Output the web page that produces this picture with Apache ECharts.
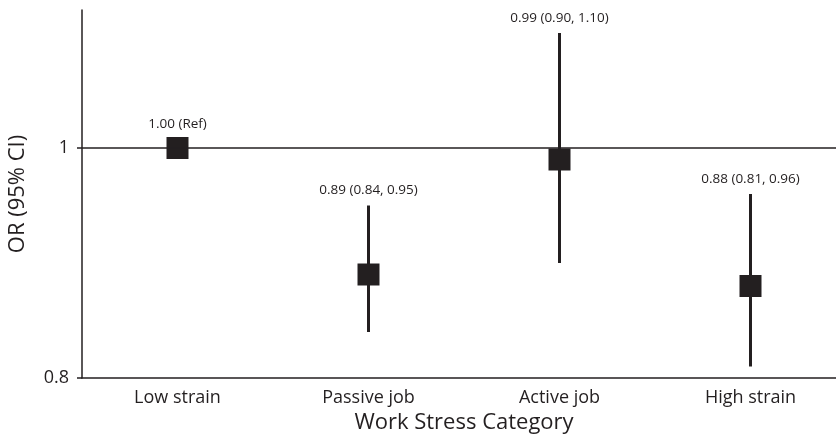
<!DOCTYPE html>
<html lang="en">
<head>
    <meta charset="UTF-8">
    <title>OR by work stress</title>
    <script src="https://cdn.jsdelivr.net/npm/echarts@6.0.0/dist/echarts.min.js"></script>
    <style>
        * { margin: 0; padding: 0; }
        body { background: #fff; overflow: hidden; }
        #main { width: 836px; height: 443px; }
    </style>
</head>
<body>
<div id="main"></div>
<script type="text/javascript">
    // data
    var categories = ['Low strain', 'Passive job', 'Active job', 'High strain'];
    var orValues = [1.00, 0.89, 0.99, 0.88];
    var lowerCI = [1.00, 0.84, 0.90, 0.81];
    var upperCI = [1.00, 0.95, 1.10, 0.96];
    var ciLabels = ['1.00 (Ref)', '0.89 (0.84, 0.95)', '0.99 (0.90, 1.10)', '0.88 (0.81, 0.96)'];
    var yTicks = [0.8, 1];

    var ink = '#231f20';
    var font = 'Open Sans';

    var ciData = categories.map(function (c, i) {
        return [i, lowerCI[i], upperCI[i], orValues[i]];
    });

    var myChart = echarts.init(document.getElementById('main'));
    var option = {
        animation: false,
        grid: { left: 82, top: 10, bottom: 65, width: 764, containLabel: false, outerBoundsMode: 'none' },
        xAxis: {
            type: 'category',
            data: categories,
            name: 'Work Stress Category',
            nameLocation: 'middle',
            nameGap: 31,
            nameTextStyle: { color: ink, fontSize: 22, fontFamily: font },
            axisLine: { lineStyle: { color: ink, width: 1.5 } },
            axisTick: { show: false },
            axisLabel: { color: ink, fontSize: 18, fontFamily: font, margin: 11 },
            splitLine: { show: false }
        },
        yAxis: {
            type: 'value',
            min: 0.8,
            max: 1.12,
            name: 'OR (95% CI)',
            nameLocation: 'middle',
            nameGap: 53,
            nameTextStyle: { color: ink, fontSize: 22, fontFamily: font },
            axisLine: { show: true, lineStyle: { color: ink, width: 1.5 } },
            axisTick: { show: true, length: 5, customValues: yTicks, lineStyle: { color: ink, width: 1.5 } },
            axisLabel: { color: ink, fontSize: 18, fontFamily: font, margin: 13, customValues: yTicks },
            splitLine: { show: false }
        },
        series: [
            {
                type: 'custom',
                data: ciData,
                renderItem: function (params, api) {
                    var lo = api.coord([api.value(0), api.value(1)]);
                    var hi = api.coord([api.value(0), api.value(2)]);
                    var mid = api.coord([api.value(0), api.value(3)]);
                    var isRef = api.value(1) === api.value(2);
                    var labelY = isRef ? mid[1] - 24 : hi[1] - 15;
                    var children = [];
                    if (!isRef) {
                        children.push({
                            type: 'line',
                            shape: { x1: lo[0], y1: lo[1], x2: hi[0], y2: hi[1] },
                            style: { stroke: ink, lineWidth: 3 }
                        });
                    }
                    children.push({
                        type: 'text',
                        style: {
                            x: mid[0], y: labelY,
                            text: ciLabels[params.dataIndex],
                            fill: ink, font: '13.5px "' + font + '"',
                            align: 'center', verticalAlign: 'middle'
                        }
                    });
                    return { type: 'group', children: children };
                },
                z: 2
            },
            {
                type: 'scatter',
                data: orValues,
                symbol: 'rect',
                symbolSize: 22,
                itemStyle: { color: ink, opacity: 1 },
                markLine: {
                    silent: true,
                    symbol: 'none',
                    label: { show: false },
                    lineStyle: { color: ink, width: 1.5, type: 'solid' },
                    data: [{ yAxis: 1 }]
                },
                z: 3
            }
        ]
    };
    myChart.setOption(option);
</script>
</body>
</html>
